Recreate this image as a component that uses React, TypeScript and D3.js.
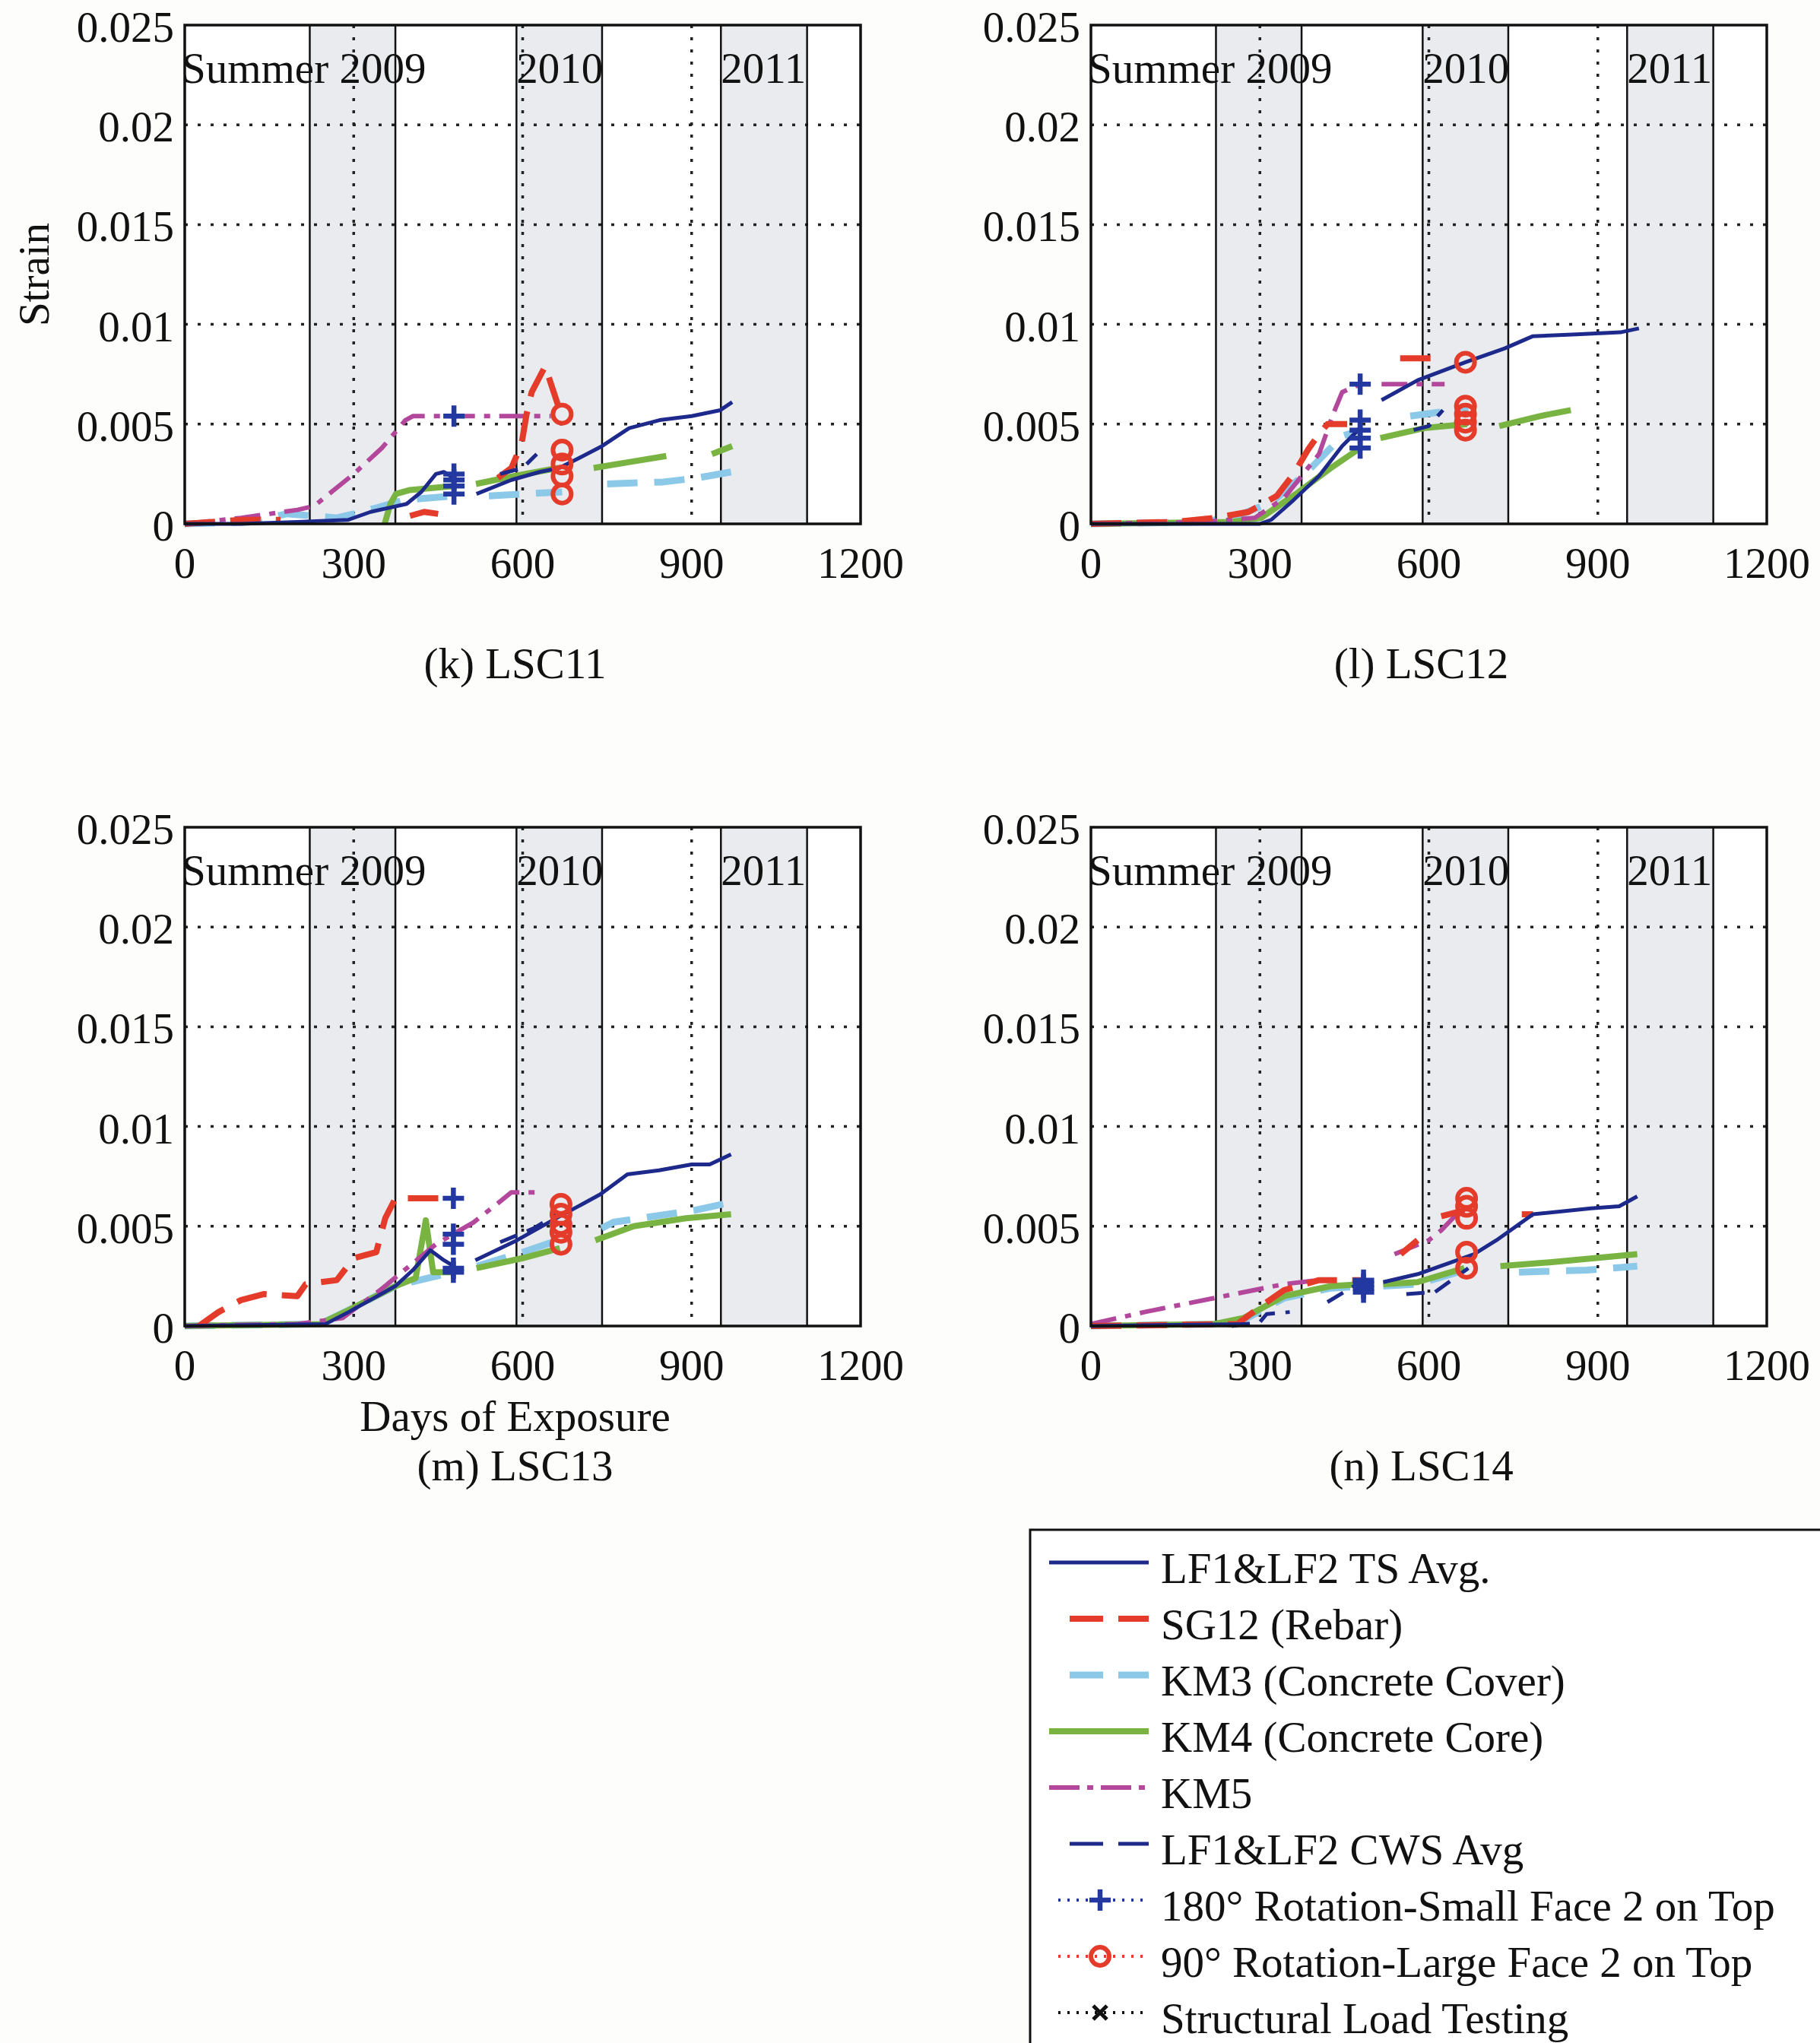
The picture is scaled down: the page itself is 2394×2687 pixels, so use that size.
import React from "react";
import * as d3 from "d3";

type Pt = [number, number];
type Seg = Pt[];

// ---------- axis / annotation data ----------
const X_TICKS = [0, 300, 600, 900, 1200];
const X_GRID = [300, 600, 900];
const Y_TICKS = [0, 0.005, 0.01, 0.015, 0.02, 0.025];
const Y_TICK_LABELS = ["0", "0.005", "0.01", "0.015", "0.02", "0.025"];
const Y_GRID = [0.005, 0.01, 0.015, 0.02];
const SUMMER_BANDS: [number, number][] = [[222, 374], [589, 741], [952, 1105]];
const SEASON_TEXT = ["Summer 2009", "2010", "2011"];
const SEASON_DAY = [0, 589, 952];
const PANEL_TITLES = ["(k) LSC11", "(l) LSC12", "(m) LSC13", "(n) LSC14"];

// ---------- LSC11 ----------
const TS_11: Seg[] = [
  [[0, 0], [100, 0], [200, 0.0001], [290, 0.0002], [330, 0.0006], [394, 0.001], [420, 0.0016], [446, 0.0025], [460, 0.0026], [478, 0.0023]],
  [[518, 0.0015], [580, 0.0022], [630, 0.0026], [665, 0.0028], [700, 0.0033], [741, 0.0039], [789, 0.0048], [843, 0.0052], [900, 0.0054], [951, 0.0057], [972, 0.0061]],
];
const SG12_11: Seg[] = [
  [[0, 0], [100, 0.0002], [170, 0.0002]],
  [[400, 0.0004], [425, 0.0006], [450, 0.0005]],
  [[556, 0.0023], [580, 0.0028], [598, 0.004], [607, 0.0055], [616, 0.0066], [640, 0.0079], [668, 0.0055]],
];
const KM3_11: Seg[] = [
  [[0, 0], [120, 0.0001], [180, 0.0005], [230, 0.0004], [270, 0.0003], [300, 0.0005], [340, 0.0008], [390, 0.0012], [478, 0.0014]],
  [[540, 0.0014], [600, 0.0015], [670, 0.0016]],
  [[750, 0.002], [850, 0.0021], [910, 0.0023], [970, 0.0026]],
];
const KM4_11: Seg[] = [
  [[355, 0], [365, 0.001], [375, 0.0015], [400, 0.0017], [440, 0.0018], [478, 0.0019]],
  [[517, 0.002], [586, 0.0024], [663, 0.0028]],
  [[726, 0.0028], [790, 0.0031], [855, 0.0034]],
  [[936, 0.0035], [972, 0.0039]],
];
const KM5_11: Seg[] = [
  [[0, 0], [100, 0.0003], [200, 0.0007], [230, 0.0009], [300, 0.0025], [350, 0.0038], [392, 0.0052], [405, 0.0054], [650, 0.0054]],
];
const CWS_11: Seg[] = [[[560, 0.0025], [600, 0.0028], [625, 0.0035]]];
const PLUS_DAY_11 = 478;
const PLUS_11 = [0.0054, 0.0025, 0.0022, 0.0019, 0.0015];
const CIRC_DAY_11 = 670;
const CIRC_11 = [0.0055, 0.0037, 0.003, 0.0024, 0.0015];

// ---------- LSC12 ----------
const TS_12: Seg[] = [
  [[0, 0], [300, 0], [320, 0.0002], [360, 0.0012], [405, 0.0024], [446, 0.0039], [478, 0.0048]],
  [[516, 0.0062], [580, 0.0072], [665, 0.0081], [735, 0.0088], [784, 0.0094], [862, 0.0095], [940, 0.0096], [973, 0.0098]],
];
const SG12_12: Seg[] = [
  [[0, 0], [150, 0.0001], [220, 0.0003], [280, 0.0006], [330, 0.0014], [360, 0.0025], [385, 0.0037], [405, 0.0045], [420, 0.005], [455, 0.005]],
  [[549, 0.0083], [603, 0.0083]],
];
const KM3_12: Seg[] = [
  [[0, 0], [200, 0.0001], [260, 0.0004], [322, 0.0011], [384, 0.0026], [446, 0.0044], [478, 0.0047]],
  [[567, 0.0054], [620, 0.0056], [670, 0.0058]],
];
const KM4_12: Seg[] = [
  [[0, 0], [250, 0.0001], [302, 0.0003], [364, 0.0015], [426, 0.0028], [478, 0.0038]],
  [[514, 0.0043], [591, 0.0048], [668, 0.005]],
  [[725, 0.0049], [797, 0.0054], [852, 0.0057]],
];
const KM5_12: Seg[] = [
  [[0, 0], [200, 0.0001], [291, 0.0003], [343, 0.0013], [405, 0.0035], [430, 0.0055], [446, 0.0066], [478, 0.007]],
  [[516, 0.007], [628, 0.007]],
];
const CWS_12: Seg[] = [[[573, 0.0047], [600, 0.0049], [625, 0.0057]]];
const PLUS_DAY_12 = 478;
const PLUS_12 = [0.007, 0.0052, 0.0047, 0.0043, 0.0038];
const CIRC_DAY_12 = 665;
const CIRC_12 = [0.0081, 0.0059, 0.0055, 0.0051, 0.0047];

// ---------- LSC13 ----------
const TS_13: Seg[] = [
  [[0, 0], [250, 0.0001], [291, 0.0007], [374, 0.002], [405, 0.0028], [436, 0.0038], [460, 0.0033], [478, 0.003]],
  [[516, 0.0033], [590, 0.0043], [666, 0.0055], [738, 0.0066], [786, 0.0076], [842, 0.0078], [900, 0.0081], [932, 0.0081], [970, 0.0086]],
];
const SG12_13: Seg[] = [
  [[25, 0], [60, 0.0007], [100, 0.0013], [140, 0.0016], [200, 0.0015], [215, 0.0021], [270, 0.0023], [300, 0.0034], [340, 0.0037], [356, 0.0054], [374, 0.0064], [478, 0.0064]],
];
const KM3_13: Seg[] = [
  [[0, 0], [240, 0.0001], [291, 0.0008], [374, 0.002], [431, 0.0024], [478, 0.0027]],
  [[519, 0.003], [600, 0.0037], [663, 0.0043]],
  [[740, 0.0049], [761, 0.0052], [905, 0.0058], [970, 0.0062]],
];
const KM4_13: Seg[] = [
  [[0, 0], [240, 0.0001], [291, 0.0008], [374, 0.002], [410, 0.0024], [428, 0.0053], [441, 0.0027], [478, 0.0027]],
  [[518, 0.0029], [600, 0.0034], [666, 0.0039]],
  [[729, 0.0043], [797, 0.005], [890, 0.0054], [970, 0.0056]],
];
const KM5_13: Seg[] = [
  [[0, 0], [200, 0.0001], [280, 0.0004], [347, 0.0018], [446, 0.0041], [513, 0.0052], [558, 0.0062], [580, 0.0067], [630, 0.0067]],
];
const CWS_13: Seg[] = [[[560, 0.0042], [620, 0.0049], [660, 0.0056]]];
const PLUS_DAY_13 = 477;
const PLUS_13 = [0.0064, 0.0046, 0.0041, 0.0029, 0.0027];
const CIRC_DAY_13 = 668;
const CIRC_13 = [0.0061, 0.0056, 0.0051, 0.0047, 0.0041];

// ---------- LSC14 ----------
const TS_14: Seg[] = [
  [[0, 0], [280, 0.0001]],
  [[519, 0.0022], [580, 0.0026], [640, 0.0032], [680, 0.0036], [720, 0.0043], [785, 0.0056], [888, 0.0059], [938, 0.006], [970, 0.0065]],
];
const SG12_14: Seg[] = [
  [[0, 0], [260, 0.0001], [302, 0.001], [343, 0.0018], [405, 0.0023], [488, 0.0023]],
  [[550, 0.0036], [580, 0.0043]],
  [[622, 0.0055], [663, 0.0058]],
  [[765, 0.0056], [785, 0.0056]],
];
const KM3_14: Seg[] = [
  [[0, 0], [219, 0.0001], [271, 0.0003], [343, 0.0014], [426, 0.0019], [488, 0.002]],
  [[519, 0.002], [580, 0.0021], [663, 0.0028]],
  [[760, 0.0027], [880, 0.0028], [970, 0.003]],
];
const KM4_14: Seg[] = [
  [[0, 0], [219, 0.0001], [271, 0.0004], [343, 0.0015], [426, 0.002], [488, 0.0021]],
  [[519, 0.0021], [580, 0.0022], [663, 0.0029]],
  [[727, 0.003], [818, 0.0032], [970, 0.0036]],
];
const KM5_14: Seg[] = [
  [[0, 0.0001], [95, 0.0007], [219, 0.0014], [343, 0.0021], [405, 0.0023]],
  [[539, 0.0036], [600, 0.0043], [622, 0.0048], [663, 0.006]],
];
const CWS_14: Seg[] = [
  [[250, 0], [300, 0.0002], [312, 0.0006], [353, 0.0007]],
  [[420, 0.0012], [467, 0.002], [488, 0.002]],
  [[560, 0.0016], [611, 0.0017], [670, 0.0029]],
];
const PLUS_DAY_14 = 484;
const PLUS_14 = [0.0023, 0.0021, 0.0019, 0.0017];
const CIRC_DAY_14 = 667;
const CIRC_14 = [0.0064, 0.006, 0.0054, 0.0037, 0.0029];

// ---------- legend ----------
const LEGEND_LABELS = [
  "LF1&LF2 TS Avg.",
  "SG12 (Rebar)",
  "KM3 (Concrete Cover)",
  "KM4 (Concrete Core)",
  "KM5",
  "LF1&LF2 CWS Avg",
  "180° Rotation-Small Face 2 on Top",
  "90° Rotation-Large Face 2 on Top",
  "Structural Load Testing",
];

// ---------- styles ----------
const C_NAVY = "#1d2a8c";
const C_RED = "#e43b2a";
const C_LBLUE = "#8cc8e8";
const C_GREEN = "#79b443";
const C_MAG = "#b2479b";
const C_PLUS = "#2338a0";
const FONT = "'Liberation Serif', 'Times New Roman', serif";
const FS = 57;

type Style = { color: string; width: number; dash?: string };
const ST_TS: Style = { color: C_NAVY, width: 5 };
const ST_SG: Style = { color: C_RED, width: 8, dash: "40 20" };
const ST_KM3: Style = { color: C_LBLUE, width: 9, dash: "40 22" };
const ST_KM4: Style = { color: C_GREEN, width: 8 };
const ST_KM5: Style = { color: C_MAG, width: 6, dash: "34 12 8 12" };
const ST_CWS: Style = { color: C_NAVY, width: 5, dash: "24 14" };

const PW = 889;
const PH = 656;

type PanelData = {
  ts: Seg[]; sg: Seg[]; km3: Seg[]; km4: Seg[]; km5: Seg[]; cws: Seg[];
  plusDay: number; plus: number[]; circDay: number; circ: number[];
};

const PANEL_DATA: PanelData[] = [
  { ts: TS_11, sg: SG12_11, km3: KM3_11, km4: KM4_11, km5: KM5_11, cws: CWS_11, plusDay: PLUS_DAY_11, plus: PLUS_11, circDay: CIRC_DAY_11, circ: CIRC_11 },
  { ts: TS_12, sg: SG12_12, km3: KM3_12, km4: KM4_12, km5: KM5_12, cws: CWS_12, plusDay: PLUS_DAY_12, plus: PLUS_12, circDay: CIRC_DAY_12, circ: CIRC_12 },
  { ts: TS_13, sg: SG12_13, km3: KM3_13, km4: KM4_13, km5: KM5_13, cws: CWS_13, plusDay: PLUS_DAY_13, plus: PLUS_13, circDay: CIRC_DAY_13, circ: CIRC_13 },
  { ts: TS_14, sg: SG12_14, km3: KM3_14, km4: KM4_14, km5: KM5_14, cws: CWS_14, plusDay: PLUS_DAY_14, plus: PLUS_14, circDay: CIRC_DAY_14, circ: CIRC_14 },
];
const PANEL_POS = [
  { left: 243, top: 33 },
  { left: 1435, top: 33 },
  { left: 243, top: 1088 },
  { left: 1435, top: 1088 },
];

function PlusMark({ cx, cy, color }: { cx: number; cy: number; color: string }) {
  return <path d={`M${cx - 14},${cy}H${cx + 14}M${cx},${cy - 14}V${cy + 14}`} stroke={color} strokeWidth={6.5} fill="none" />;
}
function CircMark({ cx, cy, color }: { cx: number; cy: number; color: string }) {
  return <circle cx={cx} cy={cy} r={12} stroke={color} strokeWidth={6} fill="none" />;
}

function Panel({ idx }: { idx: number }) {
  const { left, top } = PANEL_POS[idx];
  const data = PANEL_DATA[idx];
  const x = d3.scaleLinear().domain([0, 1200]).range([left, left + PW]);
  const y = d3.scaleLinear().domain([0, 0.025]).range([top + PH, top]);
  const line = d3.line<Pt>().x((d) => x(d[0])).y((d) => y(d[1]));
  const series: [Seg[], Style][] = [
    [data.km3, ST_KM3],
    [data.km4, ST_KM4],
    [data.km5, ST_KM5],
    [data.sg, ST_SG],
    [data.cws, ST_CWS],
    [data.ts, ST_TS],
  ];
  const cx = left + PW / 2;
  return (
    <g>
      <rect x={left} y={top} width={PW} height={PH} fill="#ffffff" />
      {SUMMER_BANDS.map(([a, b], i) => (
        <rect key={"b" + i} x={x(a)} y={top} width={x(b) - x(a)} height={PH} fill="#e9ebee" />
      ))}
      {Y_GRID.map((v, i) => (
        <line key={"gy" + i} x1={left} x2={left + PW} y1={y(v)} y2={y(v)} stroke="#222" strokeWidth={3.5} strokeDasharray="4 13" />
      ))}
      {X_GRID.map((v, i) => (
        <line key={"gx" + i} x1={x(v)} x2={x(v)} y1={top} y2={top + PH} stroke="#222" strokeWidth={3.5} strokeDasharray="4 12" />
      ))}
      {SUMMER_BANDS.flat().map((v, i) => (
        <line key={"e" + i} x1={x(v)} x2={x(v)} y1={top} y2={top + PH} stroke="#111" strokeWidth={2.5} />
      ))}
      {series.map(([segs, st], si) =>
        segs.map((seg, k) => (
          <path key={`s${si}-${k}`} d={line(seg) || ""} fill="none" stroke={st.color} strokeWidth={st.width}
            strokeDasharray={st.dash} strokeLinejoin="round" />
        ))
      )}
      {data.plus.map((v, i) => (
        <PlusMark key={"p" + i} cx={x(data.plusDay)} cy={y(v)} color={C_PLUS} />
      ))}
      {data.circ.map((v, i) => (
        <CircMark key={"c" + i} cx={x(data.circDay)} cy={y(v)} color={C_RED} />
      ))}
      {SEASON_TEXT.map((t, i) => (
        <text key={"st" + i} x={x(SEASON_DAY[i]) - (i === 0 ? 4 : 0)} y={top + 76} fontFamily={FONT} fontSize={FS} fill="#111">{t}</text>
      ))}
      <rect x={left} y={top} width={PW} height={PH} fill="none" stroke="#111" strokeWidth={3.5} />
      {Y_TICKS.map((v, i) => (
        <text key={"yt" + i} x={left - 14} y={y(v) + 22} textAnchor="end" fontFamily={FONT} fontSize={FS} fill="#111">{Y_TICK_LABELS[i]}</text>
      ))}
      {X_TICKS.map((v, i) => (
        <text key={"xt" + i} x={x(v)} y={top + PH + 71} textAnchor="middle" fontFamily={FONT} fontSize={FS} fill="#111">{v}</text>
      ))}
      {idx === 0 && (
        <text transform={`translate(64,${top + PH / 2}) rotate(-90)`} textAnchor="middle" fontFamily={FONT} fontSize={FS} fill="#111">Strain</text>
      )}
      {idx === 2 && (
        <text x={cx - 10} y={top + PH + 138} textAnchor="middle" fontFamily={FONT} fontSize={FS} fill="#111">Days of Exposure</text>
      )}
      <text x={cx - 10} y={top + PH + 203} textAnchor="middle" fontFamily={FONT} fontSize={FS} fill="#111">{PANEL_TITLES[idx]}</text>
    </g>
  );
}

function Legend() {
  const lx = 1355;
  const ly = 2012;
  const rowY = (i: number) => 2055 + i * 74;
  const x0 = 1380;
  const x1 = 1511;
  const styles: (Style | null)[] = [ST_TS, ST_SG, ST_KM3, ST_KM4, ST_KM5, ST_CWS, null, null, null];
  return (
    <g>
      <rect x={lx} y={ly} width={1200} height={800} fill="#ffffff" stroke="#111" strokeWidth={3} />
      {LEGEND_LABELS.map((lab, i) => {
        const yy = rowY(i);
        const st = styles[i];
        let sample: React.ReactNode = null;
        if (st) {
          const sx = st.dash && i !== 4 ? 1407 : x0;
          sample = <line x1={sx} x2={x1} y1={yy} y2={yy} stroke={st.color} strokeWidth={st.width}
            strokeDasharray={st.dash ? (i === 4 ? "40 10 8 10" : "44 20") : undefined} />;
        } else {
          const col = i === 6 ? C_PLUS : i === 7 ? C_RED : "#111";
          const mx = 1447;
          sample = (
            <g>
              <line x1={1392} x2={x1} y1={yy} y2={yy} stroke={col} strokeWidth={4} strokeDasharray="3 9" />
              {i === 6 && <PlusMark cx={mx} cy={yy} color={col} />}
              {i === 7 && <CircMark cx={mx} cy={yy} color={col} />}
              {i === 8 && (
                <path d={`M${mx - 9},${yy - 9}L${mx + 9},${yy + 9}M${mx - 9},${yy + 9}L${mx + 9},${yy - 9}`} stroke={col} strokeWidth={5} />
              )}
            </g>
          );
        }
        return (
          <g key={"lg" + i}>
            {sample}
            <text x={1527} y={yy + 27} fontFamily={FONT} fontSize={FS} fill="#111">{lab}</text>
          </g>
        );
      })}
    </g>
  );
}

export default function App() {
  return (
    <svg width={2394} height={2687} viewBox="0 0 2394 2687"
      style={{ position: "absolute", left: 0, top: 0, display: "block", background: "#fdfdfb" }}>
      <rect x={0} y={0} width={2394} height={2687} fill="#fdfdfb" />
      {[0, 1, 2, 3].map((i) => (
        <Panel key={i} idx={i} />
      ))}
      <Legend />
    </svg>
  );
}
